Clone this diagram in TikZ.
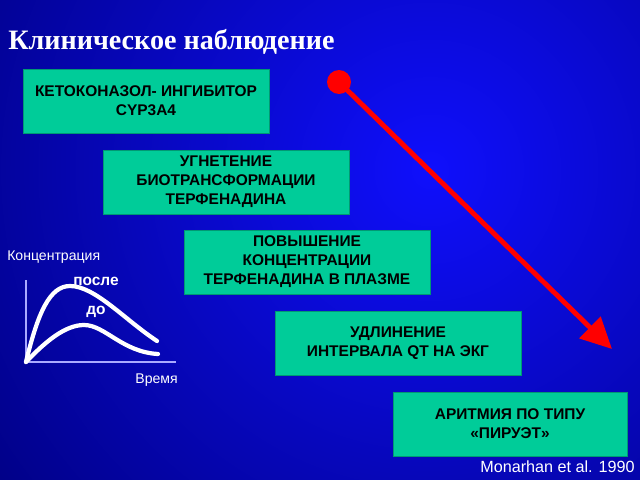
\documentclass[tikz,border=0pt]{standalone}
\usepackage{fontspec}
\setmainfont{Liberation Sans}
\newfontfamily\titlefont{Liberation Serif}
\usetikzlibrary{arrows.meta}
\definecolor{boxgreen}{RGB}{0,204,153}
\definecolor{bgdark}{RGB}{0,0,130}
\definecolor{bglight}{RGB}{15,15,252}
\definecolor{axisblue}{RGB}{170,170,255}

\begin{document}
\begin{tikzpicture}[x=0.025cm,y=-0.025cm,
  stepbox/.style={rectangle,fill=boxgreen,draw=boxgreen!75!black,line width=0.4pt,
    minimum width=6.15cm,minimum height=1.6cm,align=center,text=black,
    font=\bfseries\fontsize{11}{13.5}\selectfont},
  curve/.style={white,line width=3pt,line cap=round},
  label/.style={white,inner sep=0pt,font=\fontsize{10}{12}\selectfont}]
% fond
\useasboundingbox (0,0) rectangle (640,480);
\clip (0,0) rectangle (640,480);
\shade[inner color=bglight,outer color=bgdark] (430,170) circle (560);

% titre
\node[anchor=base west,inner sep=0pt,text=white,
  font=\titlefont\bfseries\fontsize{20}{24}\selectfont] (titre) at (8,50) {Клиническое наблюдение};

% les etapes
\node[stepbox] (keto) at (146,101) {КЕТОКОНАЗОЛ- ИНГИБИТОР\\CYP3A4};
\node[stepbox] (ugnet) at (226,182) {УГНЕТЕНИЕ\\БИОТРАНСФОРМАЦИИ\\ТЕРФЕНАДИНА};
\node[stepbox] (povysh) at (307,262) {ПОВЫШЕНИЕ\\КОНЦЕНТРАЦИИ\\ТЕРФЕНАДИНА В ПЛАЗМЕ};
\node[stepbox] (udlin) at (398,343) {УДЛИНЕНИЕ\\ИНТЕРВАЛА QT НА ЭКГ};
\node[stepbox,minimum width=5.85cm] (aritm) at (510,424) {АРИТМИЯ ПО ТИПУ\\«ПИРУЭТ»};

% la fleche rouge
\coordinate (debut) at (339,82);
\coordinate (fin) at (612,349);
\fill[red] (debut) circle (12);
\draw[red,line width=3.5pt,-{Triangle[length=22pt,width=21pt]}] (debut) -- (fin);

% le petit graphe
\coordinate (orig) at (26,362);
\coordinate (haut) at (26,280);
\coordinate (droite) at (176,362);
\draw[axisblue,line width=0.8pt] (haut) -- (orig) -- (droite);
\draw[curve] (orig) .. controls (38,312) and (50,286) .. (70,286)
  .. controls (95,286) and (125,320) .. (157,341);
\draw[curve] (orig) .. controls (45,342) and (65,325) .. (84,325)
  .. controls (105,325) and (122,352) .. (158,354);
\node[label,anchor=west] (konz) at (7,257) {Концентрация};
\node[label,anchor=east] (vremya) at (178,380) {Время};
\node[label,font=\bfseries\fontsize{11}{13}\selectfont] (posle) at (96,281) {после};
\node[label,font=\bfseries\fontsize{11}{13}\selectfont] (do) at (96,312) {до};

% source
\node[label,anchor=east,font=\fontsize{11.5}{13}\selectfont] (source) at (635,467) {Monarhan et al. 1990};
\end{tikzpicture}
\end{document}
